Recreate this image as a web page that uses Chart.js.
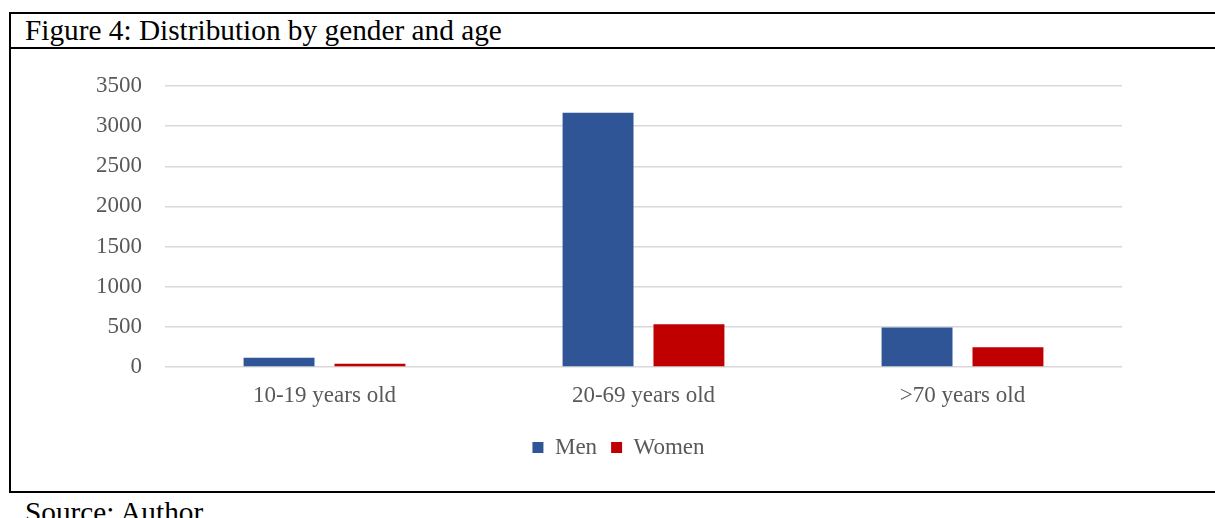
<!DOCTYPE html>
<html>
<head>
<meta charset="utf-8">
<script src="https://cdn.jsdelivr.net/npm/chart.js@4/dist/chart.umd.min.js"></script>
<style>
  body { margin: 0; background: #fff; overflow: hidden; width: 1215px; height: 518px; position: relative; }
  .frame { position: absolute; left: 9px; top: 12px; width: 1300px; height: 481px; box-sizing: border-box; border: 2px solid #000; }
  .caption { position: absolute; left: 0; top: 0; right: 0; height: 33px; border-bottom: 2px solid #000;
             font: 29.3px 'Liberation Serif', 'Times New Roman', serif; line-height: 33px; padding-left: 14px; color: #000; }
  .source { position: absolute; left: 25px; top: 496px; font: 29.3px 'Liberation Serif', 'Times New Roman', serif; line-height: 33px; color: #000; }
  #grafico { position: absolute; left: 11px; top: 49px; }
</style>
</head>
<body>
<div class="frame"><div class="caption">Figure 4: Distribution by gender and age</div></div>
<div class="source">Source: Author</div>
<canvas id="grafico" width="1200" height="442"></canvas>
<script>
var faixas = ['10-19 years old', '20-69 years old', '>70 years old'];
var homens = [116, 3166, 491];
var mulheres = [40, 533, 246];
var eixoY = [0, 500, 1000, 1500, 2000, 2500, 3000, 3500];

Chart.defaults.font.family = "'Liberation Serif', 'Times New Roman', serif";
Chart.defaults.font.size = 23;
Chart.defaults.color = '#595959';

var canvas = document.getElementById('grafico');

var grafico = new Chart(canvas, {
	type: 'bar',
	data: {
		labels: faixas,
		datasets: [{
			label: 'Men',
			data: homens,
			backgroundColor: '#2F5597'
		}, {
			label: 'Women',
			data: mulheres,
			backgroundColor: '#C00000'
		}]
	},
	options: {
		responsive: false,
		animation: false,
		categoryPercentage: 0.57,
		barPercentage: 0.78,
		layout: {
			// left padding larger than needed so the legend sits a bit right of centre
			padding: { left: 104, right: 89, top: 37, bottom: 22 }
		},
		plugins: {
			legend: {
				position: 'bottom',
				labels: {
					boxWidth: 11,
					boxHeight: 11,
					padding: 14
				}
			},
			tooltip: { enabled: false }
		},
		scales: {
			y: {
				min: eixoY[0],
				max: eixoY[eixoY.length - 1],
				afterFit: function(scale) { scale.width = 50; },
				afterBuildTicks: function(scale) {
					scale.ticks = eixoY.map(function(v) { return { value: v }; });
				},
				ticks: {
					// mirrored so the labels are not clipped to the narrow axis box
					mirror: true,
					crossAlign: 'far',
					padding: -69,
					callback: function(v) { return String(v); }
				},
				grid: { color: '#D9D9D9', lineWidth: 1.5, drawTicks: false },
				border: { display: false }
			},
			x: {
				afterFit: function(scale) { scale.height = 55; },
				ticks: { padding: 15 },
				grid: { display: false, drawTicks: false },
				border: { display: false }
			}
		}
	}
});
</script>
</body>
</html>
